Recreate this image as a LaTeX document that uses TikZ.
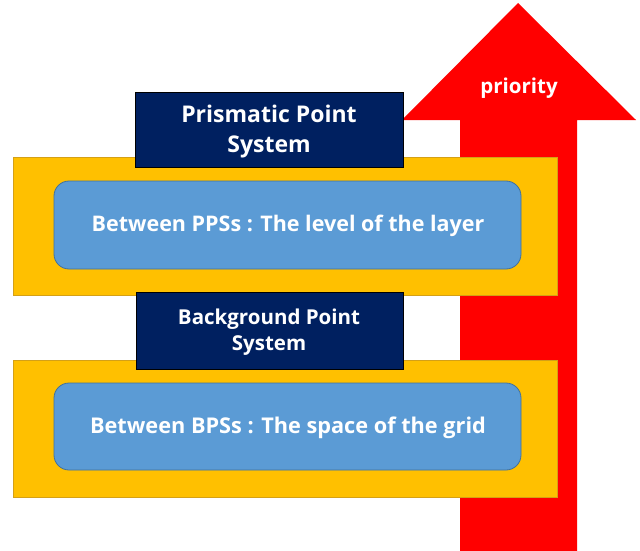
\documentclass[tikz,border=0pt]{standalone}
\usepackage{fontspec}
\setmainfont{Open Sans}
\begin{document}
\begin{tikzpicture}[x=1pt,y=-1pt,
  layerbox/.style={fill=yyellow,draw=yborder,line width=0.8pt},
  innerbox/.style={fill=bblue,draw=bborder,line width=0.8pt,rounded corners=15pt},
  titlebox/.style={fill=nnavy,draw=black,line width=1pt},
  wtext/.style={text=white,font=\bfseries,align=center}]
\definecolor{yyellow}{HTML}{FFC000}
\definecolor{yborder}{HTML}{D4A017}
\definecolor{bblue}{HTML}{5B9BD5}
\definecolor{bborder}{HTML}{41719C}
\definecolor{nnavy}{HTML}{002060}
\definecolor{rred}{HTML}{FF0000}
\useasboundingbox (0,0) rectangle (640,551);
% arrow
\fill[rred] (460,551) -- (460,120) -- (402,120) -- (518,3) -- (636,120) -- (577,120) -- (577,551) -- cycle;
\node[text=white,font=\bfseries\fontsize{20.5}{22}\selectfont] (pri) at (519,88) {priority};
% layer 1
\draw[layerbox] (13,157) rectangle (557,295);
\draw[innerbox] (54,181) rectangle (521,269);
\node[wtext,font=\bfseries\fontsize{21.5}{24}\selectfont] (b1) at (288,226) {Between PPSs : The level of the layer};
\draw[titlebox] (135,92) rectangle (403,167);
\node[wtext,font=\bfseries\fontsize{23}{30}\selectfont] (t1) at (269,132) {Prismatic Point\\System};
% layer 2
\draw[layerbox] (13,360) rectangle (557,497);
\draw[innerbox] (54,383) rectangle (521,470);
\node[wtext,font=\bfseries\fontsize{21.7}{26}\selectfont] (b2) at (288,428) {Between BPSs : The space of the grid};
\draw[titlebox] (136,292) rectangle (403,369);
\node[wtext,font=\bfseries\fontsize{20.5}{26}\selectfont] (t2) at (269,332) {Background Point\\System};
\end{tikzpicture}
\end{document}
